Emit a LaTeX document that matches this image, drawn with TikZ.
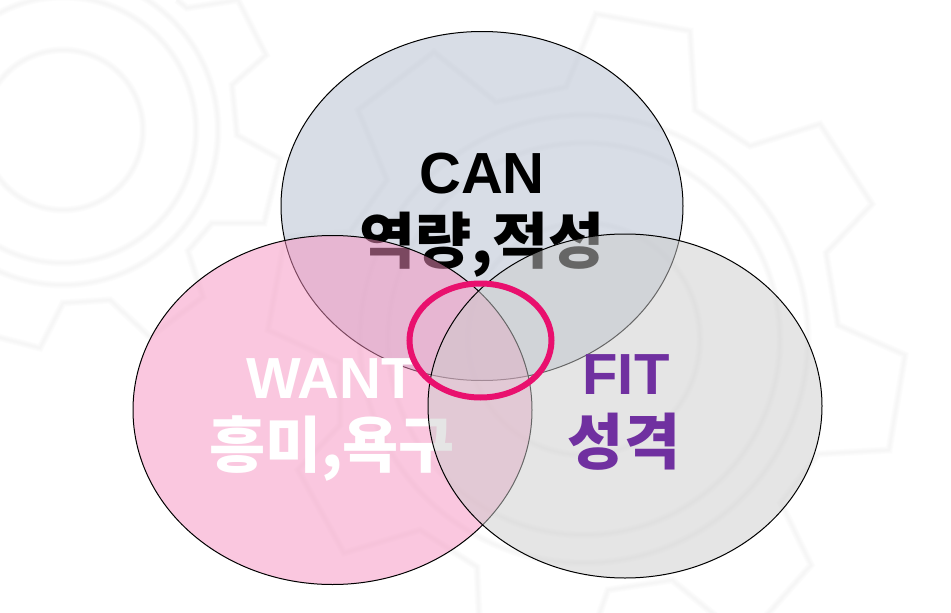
\documentclass[tikz,border=0pt]{standalone}
\usepackage{fontspec}
\setmainfont{Liberation Sans}
\newfontfamily\krfont{Noto Sans CJK KR}
\definecolor{canfill}{RGB}{179,189,207}
\definecolor{wantfill}{RGB}{247,145,192}
\definecolor{fitfill}{RGB}{204,204,204}
\definecolor{ringred}{RGB}{233,16,110}
\definecolor{fitpurple}{RGB}{112,48,160}
\tikzset{
  vennset/.style={draw=black,line width=1pt,fill opacity=0.5},
  bigtext/.style={inner sep=0pt,anchor=base,font=\bfseries\fontsize{58}{58}\selectfont},
  krtext/.style={inner sep=0pt,anchor=base,font=\krfont\bfseries\fontsize{61}{61}\selectfont},
  gearglow/.style={line join=miter}
}
\newcommand{\gearline}[1]{%
  \draw[gearglow,line width=7pt,draw=white!98.8!black] #1;%
  \draw[gearglow,line width=5pt,draw=white!98!black] #1;%
  \draw[gearglow,line width=3pt,draw=white!97.2!black] #1;%
  \draw[gearglow,line width=1.5pt,draw=white!96.5!black] #1;%
}
\begin{document}
\begin{tikzpicture}[x=1pt,y=-1pt]
\useasboundingbox (0,0) rectangle (951,613);
\fill[white] (0,0) rectangle (951,613);
\begin{scope}
\clip (0,0) rectangle (951,613);
% first gear
\gearline{(177,0) -- (187,8) -- (238,0) -- (266,55) -- (232,85) -- (237,135) -- (280,159) -- (264,223) -- (212,223) -- (188,251) -- (203,297) -- (150,337) -- (110,300) -- (63,303) -- (40,348) -- (-10,335)}
\gearline{(63,130) circle[radius=80]}
\gearline{(63,130) circle[radius=133]}
\gearline{(63,130) circle[radius=155]}
% second gear
\gearline{(596,14) -- (690,31) -- (695,110) -- (750,146) -- (820,124) -- (872,204) -- (826,253) -- (838,325) -- (905,355) -- (889,450) -- (818,454) -- (781,503) -- (811,565) -- (745,640) -- (672,580) -- (608,590) -- (590,640) -- (480,640) -- (477,567) -- (420,530) -- (344,553) -- (298,470) -- (340,425) -- (340,363) -- (268,330) -- (285,237) -- (350,232) -- (387,180) -- (358,110) -- (434,52) -- (496,102) -- (566,87) -- cycle}
\gearline{(584,339) circle[radius=116]}
\gearline{(584,339) circle[radius=196]}
\gearline{(584,339) circle[radius=224]}
\end{scope}
% CAN set and its text
\path[vennset,fill=canfill] (482,206) ellipse[x radius=201,y radius=174.5];
\node[bigtext] (canlabel) at (482,193) {CAN};
\node[krtext] (canko) at (482,263) {역량,적성};
% WANT set and its text
\path[vennset,fill=wantfill] (332.5,410) ellipse[x radius=199.5,y radius=174.5];
\node[bigtext,white] (wantlabel) at (331.5,398) {WANT};
\node[krtext,white] (wantko) at (332,467) {흥미,욕구};
% FIT set and its text
\path[vennset,fill=fitfill] (625,406) ellipse[x radius=197,y radius=172];
\node[bigtext,fitpurple] (fitlabel) at (626,394) {FIT};
\node[krtext,fitpurple] (fitko) at (624,464) {성격};
% highlight ring
\draw[ringred,line width=6pt] (480.5,340.5) ellipse[x radius=71,y radius=57];
\end{tikzpicture}
\end{document}
